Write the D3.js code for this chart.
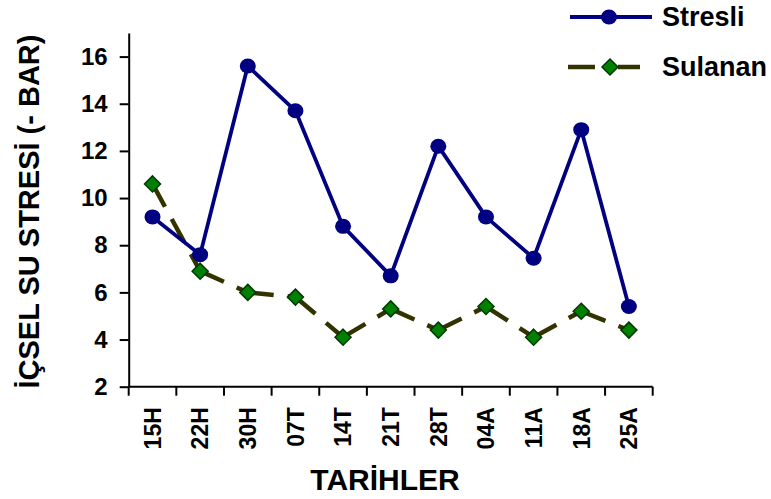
<!DOCTYPE html>
<html>
<head>
<meta charset="utf-8">
<script src="https://cdn.jsdelivr.net/npm/d3@7"></script>
<style>
  html, body { margin: 0; padding: 0; background: #fff; }
  svg { display: block; font-family: "Liberation Sans", Arial, sans-serif; font-weight: bold; }
</style>
</head>
<body>
<svg id="chart" width="771" height="499"></svg>
<script>
const categories = ["15H","22H","30H","07T","14T","21T","28T","04A","11A","18A","25A"];
const stresli = [9.2, 7.6, 15.6, 13.7, 8.8, 6.7, 12.2, 9.2, 7.45, 12.9, 5.4];
const sulanan = [10.6, 6.9, 6.0, 5.8, 4.1, 5.3, 4.4, 5.4, 4.1, 5.2, 4.4];
const yTicks = [2, 4, 6, 8, 10, 12, 14, 16];
const seriesNames = ["Stresli", "Sulanan"];
const yTitle = "İÇSEL SU STRESİ (- BAR)";
const xTitle = "TARİHLER";

(function () {
const svg = d3.select("#chart");
const pLeft = 128.7, pRight = 652.7, pTop = 33, pBottom = 386.7;

const x = d3.scaleBand().domain(categories).range([pLeft, pRight]).padding(0);
const y = d3.scaleLinear().domain([2, 17]).range([pBottom, pTop]);
const cx = c => x(c) + x.bandwidth() / 2;

const navy = "#000080", olive = "#333300", green = "#008000", dkgreen = "#003800";
const font = "Liberation Sans, Arial, sans-serif";

// Y axis
const yAxis = svg.append("g").attr("transform", `translate(${pLeft},0)`)
  .call(d3.axisLeft(y).tickValues(yTicks).tickSize(9).tickPadding(12).tickSizeOuter(0));
yAxis.select(".domain").attr("stroke", "#000").attr("stroke-width", 2);
yAxis.selectAll(".tick line").attr("stroke", "#000").attr("stroke-width", 2);
yAxis.selectAll(".tick text").attr("font-size", 24).attr("font-weight", "bold")
  .attr("font-family", font).attr("fill", "#000");

// X axis (ticks at band boundaries)
const xAxis = svg.append("g").attr("transform", `translate(0,${pBottom})`);
xAxis.append("line").attr("x1", pLeft).attr("x2", pRight).attr("stroke", "#000").attr("stroke-width", 2);
const edges = categories.map(c => x(c)).concat([x.range()[1]]);
xAxis.selectAll("line.tk").data(edges).join("line").attr("class", "tk")
  .attr("x1", d => d).attr("x2", d => d).attr("y1", 0).attr("y2", 9)
  .attr("stroke", "#000").attr("stroke-width", 2);
xAxis.selectAll("text.lbl").data(categories).join("text").attr("class", "lbl")
  .attr("transform", d => `translate(${cx(d)},20.5) rotate(-90)`)
  .attr("text-anchor", "end").attr("dy", "0.36em")
  .attr("font-size", 23).attr("fill", "#000").text(d => d);

// Titles
svg.append("text").attr("transform", `translate(39,${(30 + 393) / 2}) rotate(-90)`)
  .attr("text-anchor", "middle").attr("font-size", 29).attr("fill", "#000").text(yTitle);
svg.append("text").attr("x", 385).attr("y", 490)
  .attr("text-anchor", "middle").attr("font-size", 30).attr("fill", "#000").text(xTitle);

// Sulanan: dashed segments (dash pattern restarts at each point)
const pts = sulanan.map((v, i) => [cx(categories[i]), y(v)]);
svg.append("g").selectAll("line").data(d3.pairs(pts)).join("line")
  .attr("x1", d => d[0][0]).attr("y1", d => d[0][1])
  .attr("x2", d => d[1][0]).attr("y2", d => d[1][1])
  .attr("stroke", olive).attr("stroke-width", 4.5).attr("stroke-dasharray", "26,14");

// Stresli line
const line = d3.line().x((d, i) => cx(categories[i])).y(d => y(d));
svg.append("path").datum(stresli).attr("d", line).attr("fill", "none")
  .attr("stroke", navy).attr("stroke-width", 3.8).attr("stroke-linejoin", "round");

// Markers
svg.selectAll("ellipse.st").data(stresli).join("ellipse").attr("class", "st")
  .attr("cx", (d, i) => cx(categories[i])).attr("cy", d => y(d))
  .attr("rx", 8).attr("ry", 7.5).attr("fill", navy);
const diamond = (px, py, r) => `M${px},${py - r}L${px + r},${py}L${px},${py + r}L${px - r},${py}Z`;
svg.selectAll("path.su").data(sulanan).join("path").attr("class", "su")
  .attr("d", (d, i) => diamond(cx(categories[i]), y(d), 8))
  .attr("fill", green).attr("stroke", dkgreen).attr("stroke-width", 1.5);

// Legend
const lg = svg.append("g");
lg.append("line").attr("x1", 570).attr("x2", 652).attr("y1", 17).attr("y2", 17)
  .attr("stroke", navy).attr("stroke-width", 3.8);
lg.append("ellipse").attr("cx", 609).attr("cy", 17).attr("rx", 8).attr("ry", 7.5).attr("fill", navy);
lg.append("text").attr("x", 662).attr("y", 17).attr("dy", "0.35em").attr("font-size", 27)
  .attr("fill", "#000").text(seriesNames[0]);
lg.append("line").attr("x1", 568).attr("x2", 595).attr("y1", 67).attr("y2", 67)
  .attr("stroke", olive).attr("stroke-width", 4.5);
lg.append("line").attr("x1", 618).attr("x2", 640).attr("y1", 67).attr("y2", 67)
  .attr("stroke", olive).attr("stroke-width", 4.5);
lg.append("path").attr("d", diamond(610, 67, 8)).attr("fill", green)
  .attr("stroke", dkgreen).attr("stroke-width", 1.5);
lg.append("text").attr("x", 662).attr("y", 67).attr("dy", "0.35em").attr("font-size", 27)
  .attr("fill", "#000").text(seriesNames[1]);
})();
</script>
</body>
</html>
